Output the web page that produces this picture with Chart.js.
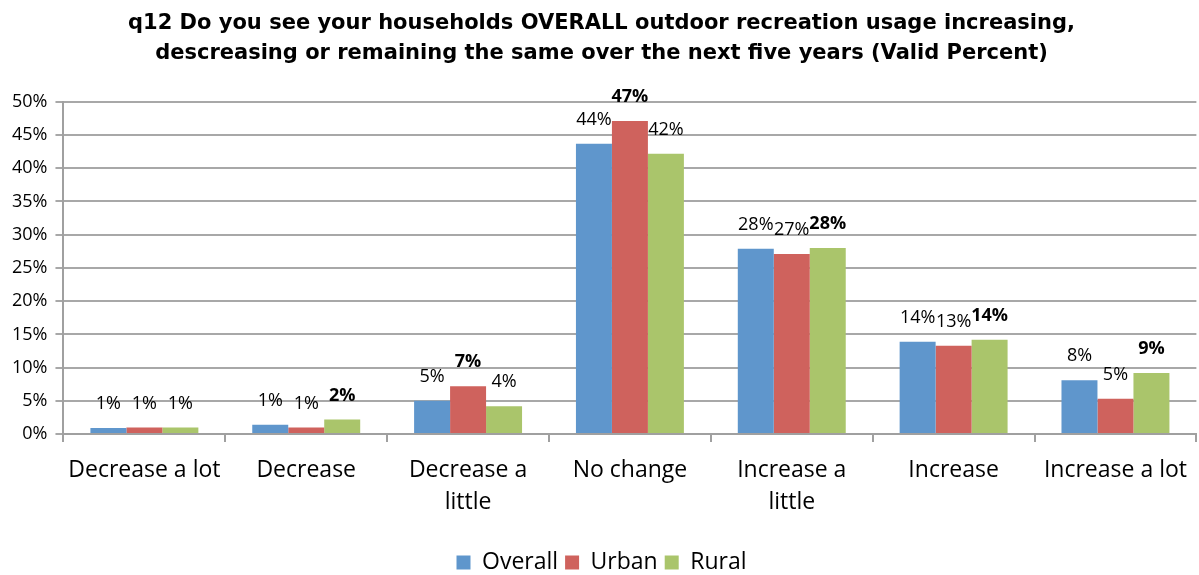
<!DOCTYPE html>
<html>
<head>
<meta charset="utf-8">
<script src="https://cdn.jsdelivr.net/npm/chart.js@4/dist/chart.umd.min.js"></script>
<style>
  html, body { margin: 0; padding: 0; background: #fff; }
  #wrap { width: 1199px; height: 575px; position: relative; }
</style>
</head>
<body>
<div id="wrap"><canvas id="chart"></canvas></div>
<script>
var categories = ['Decrease a lot', 'Decrease', ['Decrease a', 'little'], 'No change', ['Increase a', 'little'], 'Increase', 'Increase a lot'];
var overall = [0.9, 1.4, 5.0, 43.7, 27.9, 13.9, 8.1];
var urban = [1.0, 1.0, 7.2, 47.1, 27.1, 13.3, 5.3];
var rural = [1.0, 2.2, 4.2, 42.2, 28.0, 14.2, 9.2];
var yTicks = [0, 5, 10, 15, 20, 25, 30, 35, 40, 45, 50];

var FONT = '"Open Sans", sans-serif';

// value labels above bars, a unique largest value in each category in bold
var barLabels = {
    id: 'barLabels',
    afterDatasetsDraw: function (chart) {
        var ctx = chart.ctx;
        var sets = chart.data.datasets;
        ctx.save();
        ctx.textAlign = 'center';
        ctx.textBaseline = 'middle';
        ctx.fillStyle = '#000';
        for (var i = 0; i < categories.length; i++) {
            var vals = sets.map(function (s) { return s.data[i]; });
            var maxV = Math.max.apply(null, vals);
            var isUnique = vals.filter(function (v) { return v === maxV; }).length === 1;
            sets.forEach(function (ds, d) {
                var bar = chart.getDatasetMeta(d).data[i];
                var v = ds.data[i];
                var bold = isUnique && v === maxV;
                ctx.font = (bold ? 'bold ' : '') + '18px ' + FONT;
                ctx.fillText(Math.round(v) + '%', bar.x, bar.y - 24);
            });
        }
        ctx.restore();
    }
};

new Chart(document.getElementById('chart').getContext('2d'), {
    type: 'bar',
    data: {
        labels: categories,
        datasets: [
            {label: 'Overall', data: overall, backgroundColor: '#5f96cc'},
            {label: 'Urban', data: urban, backgroundColor: '#cf625d'},
            {label: 'Rural', data: rural, backgroundColor: '#aac56b'}
        ]
    },
    options: {
        responsive: true,
        maintainAspectRatio: false,
        animation: false,
        layout: {padding: {left: 4, right: 0, top: 0, bottom: -9}},
        datasets: {bar: {categoryPercentage: 0.667, barPercentage: 1.0, borderWidth: 0}},
        plugins: {
            title: {
                display: true,
                text: ['q12 Do you see your households OVERALL outdoor recreation usage increasing,',
                       'descreasing or remaining the same over the next five years (Valid Percent)'],
                color: '#000',
                font: {family: '"DejaVu Sans", sans-serif', size: 21, weight: 'bold', lineHeight: 1.4},
                padding: {top: 9, bottom: 34}
            },
            legend: {
                position: 'bottom',
                labels: {
                    color: '#000',
                    font: {family: FONT, size: 23},
                    boxWidth: 14,
                    boxHeight: 14,
                    padding: 7
                }
            },
            tooltip: {enabled: false}
        },
        scales: {
            x: {
                afterFit: function (scale) { scale.height += 14; },
                grid: {display: true, offset: true, drawOnChartArea: false, color: '#a0a0a0', lineWidth: 2, tickLength: 8},
                border: {color: '#a0a0a0', width: 2},
                ticks: {color: '#000', font: {family: FONT, size: 23, lineHeight: 1.39}, maxRotation: 0, padding: 12}
            },
            y: {
                min: 0,
                max: 50,
                afterBuildTicks: function (axis) {
                    axis.ticks = yTicks.map(function (v) { return {value: v}; });
                },
                grid: {color: '#a8a8a8', lineWidth: 2, tickLength: 8},
                border: {color: '#a0a0a0', width: 2},
                ticks: {color: '#000', font: {family: FONT, size: 18}, padding: 8,
                    callback: function (v) { return v + '%'; }}
            }
        }
    },
    plugins: [barLabels]
});
</script>
</body>
</html>
